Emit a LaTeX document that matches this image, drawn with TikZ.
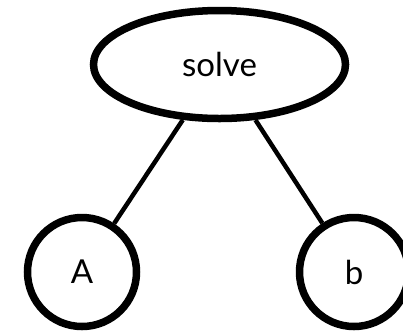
\documentclass[tikz,border=0pt]{standalone}
\usepackage{fontspec}
\setmainfont{Lato}
\usetikzlibrary{shapes.geometric}
\begin{document}
\begin{tikzpicture}[x=1pt,y=-1pt,
  treenode/.style={draw=black, line width=7.5pt, inner sep=0pt,
    font=\fontsize{33}{38}\selectfont},
  leaf/.style={treenode, circle, minimum size=109pt},
  root/.style={treenode, ellipse, minimum width=252pt, minimum height=108pt},
  edge/.style={draw=black, line width=4.5pt}]
\useasboundingbox (0,0) rectangle (403,330);
\node[root] (solve) at (219.5,64.5) {solve};
\node[leaf] (A) at (82,272) {A};
\node[leaf] (b) at (354,272) {b};
\draw[edge] (solve) -- (A);
\draw[edge] (solve) -- (b);
\end{tikzpicture}
\end{document}
